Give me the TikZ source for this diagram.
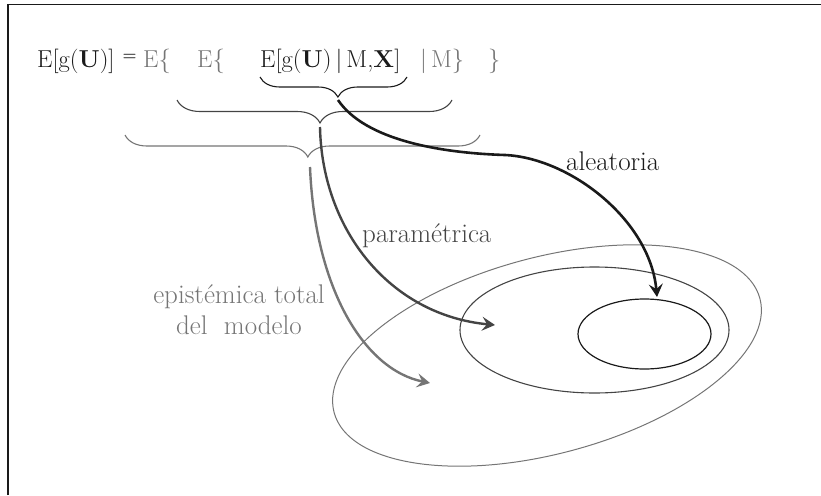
\documentclass[tikz,border=0pt]{standalone}
\usetikzlibrary{arrows.meta,decorations.pathreplacing,shapes.geometric}
\definecolor{cA}{HTML}{1A1A1A}
\definecolor{cB}{HTML}{444444}
\definecolor{cC}{HTML}{757575}
\begin{document}
\begin{tikzpicture}[x=1pt,y=-1pt,
  txt/.style={inner sep=0pt,anchor=base west,font=\fontsize{24.5}{30}\selectfont},
  lbl/.style={inner sep=0pt,font=\fontsize{27}{31}\selectfont},
  bracedeco/.style={decorate,line width=1.1pt,decoration={brace,mirror,amplitude=#1}},
  tip/.style={-{Stealth[length=13pt,width=14pt,inset=5pt]}},
  oval/.style={ellipse,draw,inner sep=0pt}]
\useasboundingbox (0,0) rectangle (821,495);
% frame
\draw[cA,line width=1.5pt] (8,495) -- (8,4.5) -- (821,4.5);
% formula
\node[txt,cA] (lhs) at (37,67) {E[g(\textbf{U})]};
\node[inner sep=0pt,cA,font=\fontsize{16}{18}\selectfont\bfseries] (eq) at (129.5,57.5) {=};
\node[txt,cC] (e1) at (143,67) {E\{};
\node[txt,cC] (e2) at (197,67) {E\{};
\node[txt,cA] (inner) at (260,67) {E[g(\textbf{U})\,|\,M,\textbf{X}]};
\node[txt,cC] (cm) at (420,67) {|\,M\}};
\node[txt,cC] (cl) at (488,67) {\}};
% braces
\draw[cA,bracedeco=20pt,decoration={aspect=0.53}] (260,77) -- (407,77);
\draw[cB,bracedeco=23pt,decoration={aspect=0.52}] (177,100) -- (452,100);
\draw[cC,bracedeco=22pt,decoration={aspect=0.515}] (125,135) -- (480,135);
\coordinate (b1) at (338,100);
\coordinate (b2) at (320,127);
\coordinate (b3) at (310,167);
% ellipses
\node[oval,cC,line width=1pt,minimum width=440.8pt,minimum height=196.4pt,rotate=15] (outer) at (547,355.5) {};
\node[oval,cB,line width=1.1pt,minimum width=269pt,minimum height=126pt] (mid) at (594.5,330) {};
\node[oval,cA,line width=1.2pt,minimum width=133pt,minimum height=70pt] (inn) at (644.5,334) {};
\coordinate (a1) at (657,297);
\coordinate (a2) at (495,325);
\coordinate (a3) at (430,383);
% arrows
\draw[cA,line width=2.6pt,tip] (b1) .. controls (365,140) and (440,153) .. (505,155)
  .. controls (570,158) and (650,220) .. (a1);
\draw[cB,line width=2.4pt,tip] (b2) .. controls (322,230) and (390,315) .. (a2);
\draw[cC,line width=2.4pt,tip] (b3) .. controls (315,290) and (365,370) .. (a3);
% labels
\node[lbl,cA,anchor=base west] (la) at (566,170) {aleatoria};
\node[lbl,cB,anchor=base west] (lp) at (362,242) {paramétrica};
\node[lbl,cC,align=center] (le) at (239,310) {epistémica total\\del\ \ modelo};
\end{tikzpicture}
\end{document}
